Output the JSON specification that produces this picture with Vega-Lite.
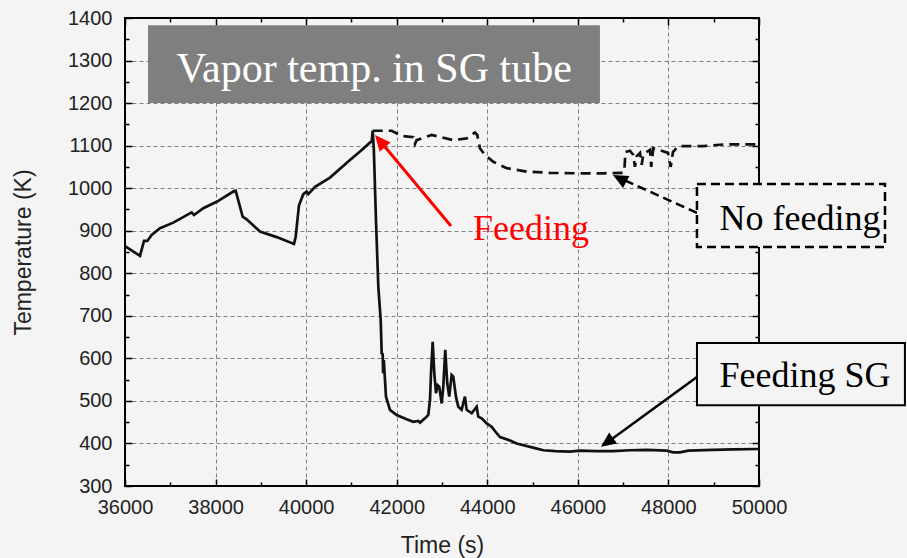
{
  "$schema": "https://vega.github.io/schema/vega-lite/v6.json",
  "width": 634,
  "height": 468,
  "autosize": "none",
  "padding": {"left": 125, "top": 18, "right": 148, "bottom": 72},
  "background": "#f4f4f4",
  "config": {
    "view": {"stroke": "#000000", "strokeWidth": 2},
    "font": "Liberation Sans"
  },
  "datasets": {
    "feed": [
      {"t": 36000, "temp": 864}, {"t": 36331, "temp": 841}, {"t": 36420, "temp": 876}, {"t": 36493, "temp": 876},
      {"t": 36589, "temp": 890}, {"t": 36773, "temp": 906}, {"t": 37067, "temp": 919}, {"t": 37472, "temp": 943},
      {"t": 37524, "temp": 937}, {"t": 37729, "temp": 953}, {"t": 38024, "temp": 968}, {"t": 38392, "temp": 992},
      {"t": 38444, "temp": 994}, {"t": 38598, "temp": 933}, {"t": 38686, "temp": 927}, {"t": 38981, "temp": 898},
      {"t": 39349, "temp": 885}, {"t": 39732, "temp": 869}, {"t": 39769, "temp": 886}, {"t": 39842, "temp": 960},
      {"t": 39937, "temp": 986}, {"t": 40012, "temp": 992}, {"t": 40048, "temp": 986}, {"t": 40196, "temp": 1003},
      {"t": 40527, "temp": 1025}, {"t": 40968, "temp": 1066}, {"t": 41189, "temp": 1086}, {"t": 41410, "temp": 1107},
      {"t": 41447, "temp": 1110}, {"t": 41470, "temp": 1135}, {"t": 41495, "temp": 1090}, {"t": 41542, "temp": 925},
      {"t": 41594, "temp": 768}, {"t": 41646, "temp": 690}, {"t": 41668, "temp": 612}, {"t": 41690, "temp": 610},
      {"t": 41700, "temp": 565}, {"t": 41715, "temp": 596}, {"t": 41763, "temp": 510}, {"t": 41851, "temp": 479},
      {"t": 41998, "temp": 467}, {"t": 42220, "temp": 457}, {"t": 42366, "temp": 451}, {"t": 42477, "temp": 453},
      {"t": 42514, "temp": 449}, {"t": 42624, "temp": 459}, {"t": 42697, "temp": 467}, {"t": 42735, "temp": 502},
      {"t": 42757, "temp": 565}, {"t": 42794, "temp": 639}, {"t": 42830, "temp": 565}, {"t": 42867, "temp": 518},
      {"t": 42904, "temp": 537}, {"t": 42940, "temp": 533}, {"t": 42993, "temp": 494}, {"t": 43028, "temp": 533},
      {"t": 43072, "temp": 620}, {"t": 43116, "temp": 541}, {"t": 43160, "temp": 510}, {"t": 43213, "temp": 561},
      {"t": 43249, "temp": 557}, {"t": 43308, "temp": 510}, {"t": 43360, "temp": 486}, {"t": 43433, "temp": 479},
      {"t": 43507, "temp": 510}, {"t": 43544, "temp": 479}, {"t": 43655, "temp": 471}, {"t": 43765, "temp": 486},
      {"t": 43801, "temp": 463}, {"t": 43876, "temp": 459}, {"t": 43986, "temp": 447}, {"t": 44097, "temp": 439},
      {"t": 44207, "temp": 424}, {"t": 44281, "temp": 415}, {"t": 44502, "temp": 407}, {"t": 44649, "temp": 400},
      {"t": 45053, "temp": 389}, {"t": 45237, "temp": 384}, {"t": 45500, "temp": 382}, {"t": 45826, "temp": 381},
      {"t": 46047, "temp": 383}, {"t": 46400, "temp": 382}, {"t": 46776, "temp": 382}, {"t": 47150, "temp": 384},
      {"t": 47519, "temp": 385}, {"t": 47961, "temp": 383}, {"t": 48100, "temp": 379}, {"t": 48255, "temp": 379},
      {"t": 48438, "temp": 383}, {"t": 48990, "temp": 385}, {"t": 49432, "temp": 386}, {"t": 50000, "temp": 387}
    ],
    "nofeed": [
      {"t": 41470, "temp": 1135}, {"t": 41889, "temp": 1135}, {"t": 42110, "temp": 1123}, {"t": 42366, "temp": 1120},
      {"t": 42403, "temp": 1104}, {"t": 42440, "temp": 1113}, {"t": 42772, "temp": 1125}, {"t": 43249, "temp": 1113},
      {"t": 43544, "temp": 1117}, {"t": 43728, "temp": 1131}, {"t": 43779, "temp": 1125}, {"t": 43838, "temp": 1094},
      {"t": 43949, "temp": 1078}, {"t": 44133, "temp": 1062}, {"t": 44428, "temp": 1047}, {"t": 44870, "temp": 1039},
      {"t": 45384, "temp": 1036}, {"t": 45973, "temp": 1035}, {"t": 46562, "temp": 1035}, {"t": 47004, "temp": 1036},
      {"t": 47030, "temp": 1047}, {"t": 47050, "temp": 1085}, {"t": 47150, "temp": 1088}, {"t": 47224, "temp": 1078},
      {"t": 47260, "temp": 1050}, {"t": 47298, "temp": 1075}, {"t": 47372, "temp": 1083}, {"t": 47410, "temp": 1055},
      {"t": 47445, "temp": 1080}, {"t": 47593, "temp": 1090}, {"t": 47620, "temp": 1050}, {"t": 47665, "temp": 1094},
      {"t": 47990, "temp": 1083}, {"t": 48050, "temp": 1050}, {"t": 48100, "temp": 1085}, {"t": 48218, "temp": 1099},
      {"t": 48770, "temp": 1099}, {"t": 49249, "temp": 1103}, {"t": 50000, "temp": 1103}
    ]
  },
  "resolve": {"axis": {"x": "independent", "y": "independent"}},
  "layer": [
    {
      "data": {"name": "feed"},
      "mark": {"type": "line", "color": "#111111", "strokeWidth": 2.7},
      "encoding": {
        "x": {
          "field": "t", "type": "quantitative",
          "scale": {"domain": [36000, 50000], "nice": false, "zero": false},
          "axis": {
            "orient": "bottom", "title": "Time (s)",
            "values": [36000, 37000, 38000, 39000, 40000, 41000, 42000, 43000, 44000, 45000, 46000, 47000, 48000, 49000, 50000],
            "format": "d",
            "labelExpr": "datum.value % 2000 === 0 ? datum.label : ''",
            "labelFontSize": 20, "labelColor": "#222222", "labelFont": "Liberation Sans",
            "labelPadding": 18, "labelFlush": false,
            "domain": false,
            "ticks": true, "tickColor": "#000000", "tickWidth": 1.5,
            "tickSize": {"condition": {"test": "datum.value % 2000 === 0", "value": -7}, "value": -4},
            "grid": true, "gridColor": "#808080", "gridDash": [4, 3], "gridWidth": 1,
            "gridOpacity": {"condition": {"test": "datum.value % 2000 === 0 && datum.value > 36000 && datum.value < 50000", "value": 1}, "value": 0},
            "titleFontSize": 23, "titleFontWeight": "normal", "titleColor": "#222222", "titleFont": "Liberation Sans",
            "titleBaseline": "alphabetic", "titleY": 66
          }
        },
        "y": {
          "field": "temp", "type": "quantitative",
          "scale": {"domain": [300, 1400], "nice": false, "zero": false},
          "axis": {
            "orient": "left", "title": "Temperature (K)",
            "values": [300, 350, 400, 450, 500, 550, 600, 650, 700, 750, 800, 850, 900, 950, 1000, 1050, 1100, 1150, 1200, 1250, 1300, 1350, 1400],
            "format": "d",
            "labelExpr": "datum.value % 100 === 0 ? datum.label : ''",
            "labelFontSize": 20, "labelColor": "#222222", "labelFont": "Liberation Sans",
            "labelPadding": 20, "labelFlush": false,
            "domain": false,
            "ticks": true, "tickColor": "#000000", "tickWidth": 1.5,
            "tickSize": {"condition": {"test": "datum.value % 100 === 0", "value": -7}, "value": -4},
            "grid": true, "gridColor": "#808080", "gridDash": [4, 3], "gridWidth": 1,
            "gridOpacity": {"condition": {"test": "datum.value % 100 === 0 && datum.value > 300 && datum.value < 1400", "value": 1}, "value": 0},
            "titleFontSize": 23, "titleFontWeight": "normal", "titleColor": "#222222", "titleFont": "Liberation Sans",
            "titleBaseline": "middle", "titleX": -102
          }
        }
      }
    },
    {
      "data": {"name": "nofeed"},
      "mark": {"type": "line", "color": "#111111", "strokeWidth": 2.7, "strokeDash": [10, 6]},
      "encoding": {
        "x": {
          "field": "t", "type": "quantitative",
          "axis": {
            "orient": "top", "title": null, "labels": false, "domain": false, "grid": false,
            "values": [36000, 37000, 38000, 39000, 40000, 41000, 42000, 43000, 44000, 45000, 46000, 47000, 48000, 49000, 50000],
            "ticks": true, "tickColor": "#000000", "tickWidth": 1.5,
            "tickSize": {"condition": {"test": "datum.value % 2000 === 0", "value": -7}, "value": -4}
          }
        },
        "y": {
          "field": "temp", "type": "quantitative",
          "axis": {
            "orient": "right", "title": null, "labels": false, "domain": false, "grid": false,
            "values": [300, 350, 400, 450, 500, 550, 600, 650, 700, 750, 800, 850, 900, 950, 1000, 1050, 1100, 1150, 1200, 1250, 1300, 1350, 1400],
            "ticks": true, "tickColor": "#000000", "tickWidth": 1.5,
            "tickSize": {"condition": {"test": "datum.value % 100 === 0", "value": -7}, "value": -4}
          }
        }
      }
    },
    {
      "data": {"values": [{"x": 36508, "x2": 46488, "y": 1383, "y2": 1200}]},
      "mark": {"type": "rect", "fill": "#7f7f7f"},
      "encoding": {
        "x": {"field": "x", "type": "quantitative", "axis": null},
        "x2": {"field": "x2"},
        "y": {"field": "y", "type": "quantitative", "axis": null},
        "y2": {"field": "y2"}
      }
    },
    {
      "data": {"values": [{"x": 41500, "y": 1250, "label": "Vapor temp. in SG tube"}]},
      "mark": {"type": "text", "color": "#ffffff", "font": "Liberation Serif", "fontSize": 42, "align": "center", "baseline": "alphabetic"},
      "encoding": {
        "x": {"field": "x", "type": "quantitative", "axis": null},
        "y": {"field": "y", "type": "quantitative", "axis": null},
        "text": {"field": "label"}
      }
    },
    {
      "data": {"values": [{"x": 48630, "x2": 52782, "y": 1010, "y2": 862}]},
      "mark": {"type": "rect", "fill": "#f4f4f4", "stroke": "#000000", "strokeWidth": 2.5, "strokeDash": [9, 5]},
      "encoding": {
        "x": {"field": "x", "type": "quantitative", "axis": null},
        "x2": {"field": "x2"},
        "y": {"field": "y", "type": "quantitative", "axis": null},
        "y2": {"field": "y2"}
      }
    },
    {
      "data": {"values": [{"x": 48630, "x2": 53222, "y": 636, "y2": 490}]},
      "mark": {"type": "rect", "fill": "#f4f4f4", "stroke": "#000000", "strokeWidth": 2},
      "encoding": {
        "x": {"field": "x", "type": "quantitative", "axis": null},
        "x2": {"field": "x2"},
        "y": {"field": "y", "type": "quantitative", "axis": null},
        "y2": {"field": "y2"}
      }
    },
    {
      "data": {"values": [{"x": 50905, "y": 902, "label": "No feeding"}, {"x": 51015, "y": 533, "label": "Feeding SG"}]},
      "mark": {"type": "text", "color": "#000000", "font": "Liberation Serif", "fontSize": 36, "align": "center", "baseline": "alphabetic"},
      "encoding": {
        "x": {"field": "x", "type": "quantitative", "axis": null},
        "y": {"field": "y", "type": "quantitative", "axis": null},
        "text": {"field": "label"}
      }
    },
    {
      "data": {"values": [{"x": 44965, "y": 878, "label": "Feeding"}]},
      "mark": {"type": "text", "color": "#ff0000", "font": "Liberation Serif", "fontSize": 36, "align": "center", "baseline": "alphabetic"},
      "encoding": {
        "x": {"field": "x", "type": "quantitative", "axis": null},
        "y": {"field": "y", "type": "quantitative", "axis": null},
        "text": {"field": "label"}
      }
    },
    {
      "data": {"values": [{"x": 43198, "y": 911, "x2": 41633, "y2": 1111}]},
      "mark": {"type": "rule", "color": "#ff0000", "strokeWidth": 3},
      "encoding": {
        "x": {"field": "x", "type": "quantitative", "axis": null},
        "x2": {"field": "x2"},
        "y": {"field": "y", "type": "quantitative", "axis": null},
        "y2": {"field": "y2"}
      }
    },
    {
      "data": {"values": [{"x": 41520, "y": 1125}]},
      "mark": {"type": "point", "shape": "M0,0L-0.45,1L0.45,1Z", "filled": true, "color": "#ff0000", "size": 1000, "opacity": 1, "angle": -40},
      "encoding": {
        "x": {"field": "x", "type": "quantitative", "axis": null},
        "y": {"field": "y", "type": "quantitative", "axis": null}
      }
    },
    {
      "data": {"values": [{"x": 48630, "y": 942, "x2": 46937, "y2": 1023}]},
      "mark": {"type": "rule", "color": "#000000", "strokeWidth": 2.5, "strokeDash": [9, 5]},
      "encoding": {
        "x": {"field": "x", "type": "quantitative", "axis": null},
        "x2": {"field": "x2"},
        "y": {"field": "y", "type": "quantitative", "axis": null},
        "y2": {"field": "y2"}
      }
    },
    {
      "data": {"values": [{"x": 46775, "y": 1031}]},
      "mark": {"type": "point", "shape": "M0,0L-0.45,1L0.45,1Z", "filled": true, "color": "#000000", "size": 900, "opacity": 1, "angle": -62},
      "encoding": {
        "x": {"field": "x", "type": "quantitative", "axis": null},
        "y": {"field": "y", "type": "quantitative", "axis": null}
      }
    },
    {
      "data": {"values": [{"x": 48630, "y": 556, "x2": 46654, "y2": 403}]},
      "mark": {"type": "rule", "color": "#000000", "strokeWidth": 2.5},
      "encoding": {
        "x": {"field": "x", "type": "quantitative", "axis": null},
        "x2": {"field": "x2"},
        "y": {"field": "y", "type": "quantitative", "axis": null},
        "y2": {"field": "y2"}
      }
    },
    {
      "data": {"values": [{"x": 46510, "y": 392}]},
      "mark": {"type": "point", "shape": "M0,0L-0.45,1L0.45,1Z", "filled": true, "color": "#000000", "size": 900, "opacity": 1, "angle": 234},
      "encoding": {
        "x": {"field": "x", "type": "quantitative", "axis": null},
        "y": {"field": "y", "type": "quantitative", "axis": null}
      }
    }
  ]
}
